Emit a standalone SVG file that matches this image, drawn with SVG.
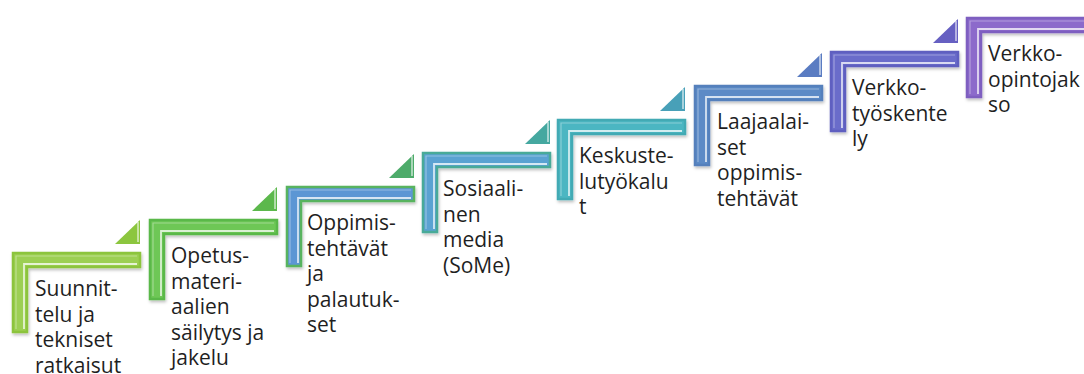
<svg xmlns="http://www.w3.org/2000/svg" width="1084" height="374" viewBox="0 0 1084 374">
<defs>
<filter id="sh" x="-10%" y="-10%" width="130%" height="130%">
<feDropShadow dx="1" dy="2" stdDeviation="1.5" flood-color="#000" flood-opacity="0.25"/>
</filter>
<path id="L" d="M0,0 H127 V14 H14 V79 H0 Z"/>
<path id="T" d="M102,-9 H127 V-33 Z"/>
</defs>
<style>
.bar{stroke-width:2.5;stroke-linejoin:miter;filter:url(#sh)}
.hl{fill:none;stroke:#fff;stroke-opacity:0.75;stroke-width:1.8}
.hl2{fill:none;stroke:#fff;stroke-opacity:0.35;stroke-width:1.2}
.tri{stroke:none}
.trihl{fill:none;stroke:#fff;stroke-opacity:0.7;stroke-width:1.5}
.txt{font-family:"Open Sans","Liberation Sans",sans-serif;font-size:21px;fill:#1f1f1f}
</style>
<rect width="1084" height="374" fill="#fff"/>
<g id="connectors"></g>

<g id="step1" transform="translate(13,253)">
<use href="#L" class="bar" fill="#9ccf52" stroke="#8cc43e"/>
<polyline class="hl" points="124,11 11,11 11,76"/>
<polyline class="hl2" points="124,3 3,3 3,76"/>
<use href="#T" class="tri" fill="#8cc63f"/>
<polyline class="trihl" points="125,-31 125,-11"/>
<text class="txt" x="22" y="43"><tspan x="22">Suunnit-</tspan><tspan x="22" dy="25.5">telu ja</tspan><tspan x="22" dy="25.5">tekniset</tspan><tspan x="22" dy="25.5">ratkaisut</tspan></text>
</g>

<g id="step2" transform="translate(150,220)">
<use href="#L" class="bar" fill="#6ec757" stroke="#5ab848"/>
<polyline class="hl" points="124,11 11,11 11,76"/>
<polyline class="hl2" points="124,3 3,3 3,76"/>
<use href="#T" class="tri" fill="#5cb84c"/>
<polyline class="trihl" points="125,-31 125,-11"/>
<text class="txt" x="21" y="43"><tspan x="21">Opetus-</tspan><tspan x="21" dy="25.5">materi-</tspan><tspan x="21" dy="25.5">aalien</tspan><tspan x="21" dy="25.5">säilytys ja</tspan><tspan x="21" dy="25.5">jakelu</tspan></text>
</g>

<g id="step3" transform="translate(287,187)">
<use href="#L" class="bar" fill="#5b96d4" stroke="#58b35e"/>
<polyline class="hl" points="124,11 11,11 11,76"/>
<polyline class="hl2" points="124,3 3,3 3,76"/>
<use href="#T" class="tri" fill="#4dab6a"/>
<polyline class="trihl" points="125,-31 125,-11"/>
<text class="txt" x="20" y="43"><tspan x="20">Oppimis-</tspan><tspan x="20" dy="25.5">tehtävät</tspan><tspan x="20" dy="25.5">ja</tspan><tspan x="20" dy="25.5">palautuk-</tspan><tspan x="20" dy="25.5">set</tspan></text>
</g>

<g id="step4" transform="translate(423,153)">
<use href="#L" class="bar" fill="#5aa2d2" stroke="#4aaa98"/>
<polyline class="hl" points="124,11 11,11 11,76"/>
<polyline class="hl2" points="124,3 3,3 3,76"/>
<use href="#T" class="tri" fill="#45a8a0"/>
<polyline class="trihl" points="125,-31 125,-11"/>
<text class="txt" x="20" y="43"><tspan x="20">Sosiaali-</tspan><tspan x="20" dy="25.5">nen</tspan><tspan x="20" dy="25.5">media</tspan><tspan x="20" dy="25.5">(SoMe)</tspan></text>
</g>

<g id="step5" transform="translate(558,120)">
<use href="#L" class="bar" fill="#4bb6c2" stroke="#42aab4"/>
<polyline class="hl" points="124,11 11,11 11,76"/>
<polyline class="hl2" points="124,3 3,3 3,76"/>
<use href="#T" class="tri" fill="#48a0b8"/>
<polyline class="trihl" points="125,-31 125,-11"/>
<text class="txt" x="21" y="43"><tspan x="21">Keskuste-</tspan><tspan x="21" dy="25.5">lutyökalu</tspan><tspan x="21" dy="25.5">t</tspan></text>
</g>

<g id="step6" transform="translate(695,86)">
<use href="#L" class="bar" fill="#5b8ac6" stroke="#5580bc"/>
<polyline class="hl" points="124,11 11,11 11,76"/>
<polyline class="hl2" points="124,3 3,3 3,76"/>
<use href="#T" class="tri" fill="#5a7cc2"/>
<polyline class="trihl" points="125,-31 125,-11"/>
<text class="txt" x="22" y="43"><tspan x="22">Laajaalai-</tspan><tspan x="22" dy="25.5">set</tspan><tspan x="22" dy="25.5">oppimis-</tspan><tspan x="22" dy="25.5">tehtävät</tspan></text>
</g>

<g id="step7" transform="translate(831,52)">
<use href="#L" class="bar" fill="#6a6cca" stroke="#5e5ec0"/>
<polyline class="hl" points="124,11 11,11 11,76"/>
<polyline class="hl2" points="124,3 3,3 3,76"/>
<use href="#T" class="tri" fill="#6660c2"/>
<polyline class="trihl" points="125,-31 125,-11"/>
<text class="txt" x="21" y="43"><tspan x="21">Verkko-</tspan><tspan x="21" dy="25.5">työskente</tspan><tspan x="21" dy="25.5">ly</tspan></text>
</g>

<g id="step8" transform="translate(967,18)">
<use href="#L" class="bar" fill="#8c6acb" stroke="#7e5ec0"/>
<polyline class="hl" points="124,11 11,11 11,76"/>
<polyline class="hl2" points="124,3 3,3 3,76"/>
<text class="txt" x="21" y="43"><tspan x="21">Verkko-</tspan><tspan x="21" dy="25.5">opintojak</tspan><tspan x="21" dy="25.5">so</tspan></text>
</g>
</svg>
